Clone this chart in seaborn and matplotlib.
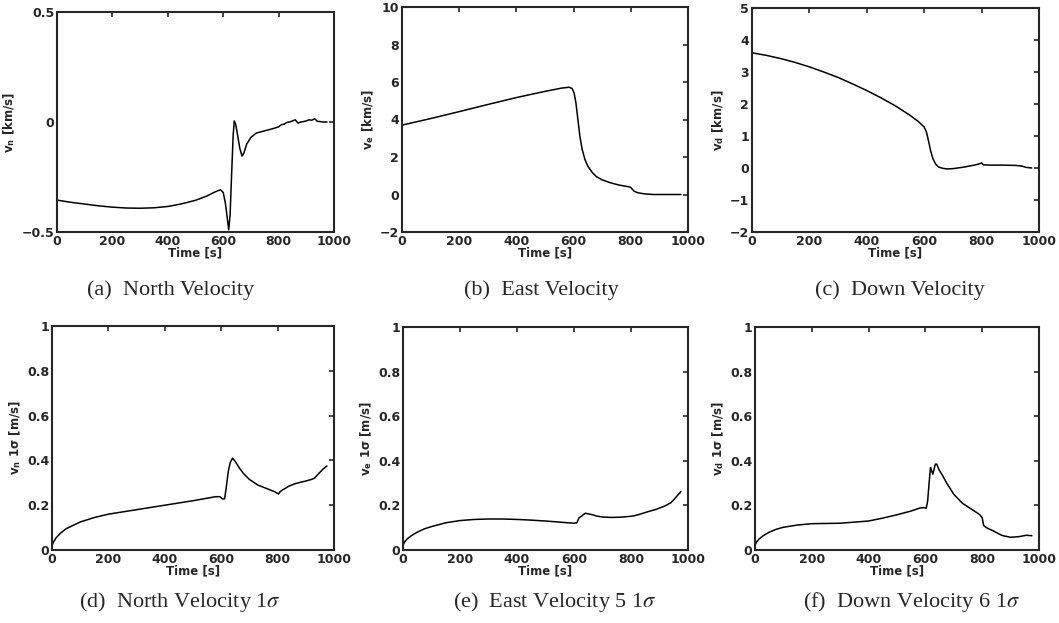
import numpy as np
import pandas as pd
import matplotlib
matplotlib.use('Agg')
import matplotlib.pyplot as plt
import seaborn as sns

# (a) north velocity [km/s]
t_a = [0, 50, 100, 150, 200, 250, 300, 350, 400, 450, 500, 540, 570, 590, 600, 608, 615, 620, 625, 630, 636,
       640, 645, 652, 660, 668, 675, 685, 700, 720, 750, 780, 800, 810, 820, 830, 840, 850, 860, 870, 880,
       890, 900, 910, 920, 930, 940, 950, 960, 975]
v_a = [-0.355, -0.365, -0.373, -0.381, -0.387, -0.391, -0.392, -0.39, -0.384, -0.372, -0.356, -0.337, -0.318,
       -0.308, -0.32, -0.37, -0.44, -0.49, -0.42, -0.25, -0.06, 0.005, -0.01, -0.06, -0.12, -0.155, -0.14,
       -0.1, -0.07, -0.05, -0.04, -0.03, -0.022, -0.012, -0.01, -0.002, 0.0, 0.005, 0.01, -0.005, 0.0,
       0.002, 0.005, 0.01, 0.008, 0.015, 0.003, 0.002, 0.0, 0.0]

# (b) east velocity [km/s]
t_b = [0, 100, 200, 300, 400, 500, 560, 585, 595, 602, 608, 615, 622, 630, 640, 650, 665, 680, 700, 730,
       760, 790, 800, 805, 812, 825, 850, 880, 920, 975]
v_b = [3.7, 4.05, 4.42, 4.8, 5.17, 5.5, 5.68, 5.72, 5.65, 5.4, 4.9, 4.0, 3.1, 2.4, 1.85, 1.5, 1.18, 0.95,
       0.78, 0.62, 0.5, 0.42, 0.38, 0.28, 0.17, 0.09, 0.03, 0.0, 0.0, 0.0]

# (c) down velocity [km/s]
t_c = [0, 50, 100, 150, 200, 250, 300, 350, 400, 450, 500, 550, 580, 600, 608, 615, 622, 630, 640, 650,
       665, 680, 700, 740, 780, 795, 800, 806, 830, 870, 920, 940, 955, 975]
v_c = [3.6, 3.52, 3.42, 3.3, 3.16, 3.0, 2.83, 2.63, 2.42, 2.19, 1.94, 1.65, 1.45, 1.28, 1.12, 0.85, 0.55,
       0.3, 0.12, 0.03, -0.01, -0.03, -0.02, 0.03, 0.1, 0.14, 0.16, 0.1, 0.09, 0.09, 0.08, 0.06, 0.02, 0.0]

# (d) north velocity 1 sigma [m/s]
t_d = [0, 5, 15, 30, 50, 75, 100, 150, 200, 300, 400, 500, 580, 595, 605, 612, 618, 625, 632, 640, 650,
       665, 680, 700, 730, 760, 790, 803, 810, 820, 840, 860, 880, 900, 920, 930, 945, 960, 975]
v_d = [0.02, 0.035, 0.055, 0.075, 0.095, 0.11, 0.125, 0.145, 0.16, 0.18, 0.2, 0.22, 0.238, 0.238, 0.228,
       0.228, 0.28, 0.35, 0.39, 0.41, 0.395, 0.365, 0.34, 0.315, 0.29, 0.275, 0.26, 0.25, 0.262, 0.27,
       0.285, 0.295, 0.302, 0.308, 0.315, 0.32, 0.34, 0.36, 0.375]

# (e) east velocity 1 sigma [m/s]
t_e = [0, 5, 15, 30, 50, 75, 100, 150, 200, 250, 300, 350, 400, 450, 500, 550, 600, 610, 618, 625, 632,
       640, 650, 665, 680, 700, 730, 760, 790, 810, 830, 860, 890, 920, 940, 950, 960, 975]
v_e = [0.02, 0.035, 0.05, 0.065, 0.08, 0.095, 0.105, 0.122, 0.132, 0.137, 0.139, 0.139, 0.137, 0.134,
       0.13, 0.125, 0.12, 0.122, 0.145, 0.15, 0.158, 0.165, 0.162, 0.158, 0.152, 0.148, 0.146, 0.147,
       0.15, 0.153, 0.16, 0.172, 0.183, 0.198, 0.212, 0.225, 0.24, 0.262]

# (f) down velocity 1 sigma [m/s]
t_f = [0, 5, 15, 30, 50, 75, 100, 150, 200, 300, 400, 450, 500, 550, 580, 595, 603, 608, 613, 618, 622,
       626, 630, 635, 640, 648, 660, 675, 700, 730, 760, 790, 800, 805, 815, 840, 870, 900, 930, 955, 975]
v_f = [0.02, 0.035, 0.05, 0.065, 0.08, 0.093, 0.102, 0.112, 0.118, 0.12, 0.13, 0.143, 0.158, 0.175,
       0.188, 0.19, 0.188, 0.22, 0.3, 0.37, 0.355, 0.34, 0.36, 0.385, 0.385, 0.36, 0.335, 0.3, 0.25,
       0.21, 0.185, 0.16, 0.145, 0.11, 0.1, 0.085, 0.065, 0.057, 0.06, 0.066, 0.064]

x_ticks = [0, 200, 400, 600, 800, 1000]
yt_a = [-0.5, 0, 0.5]
yl_a = ['\u22120.5', '0', '0.5']
yt_b = [-2, 0, 2, 4, 6, 8, 10]
yl_b = ['\u22122', '0', '2', '4', '6', '8', '10']
yt_c = [-2, -1, 0, 1, 2, 3, 4, 5]
yl_c = ['\u22122', '\u22121', '0', '1', '2', '3', '4', '5']
yt_s = [0, 0.2, 0.4, 0.6, 0.8, 1]
yl_s = ['0', '0.2', '0.4', '0.6', '0.8', '1']

ylabels = ['v$_\\mathregular{n}$ [km/s]', 'v$_\\mathregular{e}$ [km/s]', 'v$_\\mathregular{d}$ [km/s]',
           'v$_\\mathregular{n}$ 1\u03c3 [m/s]', 'v$_\\mathregular{e}$ 1\u03c3 [m/s]', 'v$_\\mathregular{d}$ 1\u03c3 [m/s]']
captions = ['(a)  North Velocity', '(b)  East Velocity', '(c)  Down Velocity',
            '(d)  North Velocity 1$\\sigma$', '(e)  East Velocity 5 1$\\sigma$', '(f)  Down Velocity 6 1$\\sigma$']

sns.set_style('white')
plt.rcParams['font.family'] = ['DejaVu Sans']
plt.rcParams['mathtext.fontset'] = 'stix'
plt.rcParams['axes.linewidth'] = 1.5

fig = plt.figure(figsize=(10.59, 6.23), dpi=100)

W, H = 1059, 623
boxes = [(57, 334, 12, 232), (402, 688, 7, 232), (752, 1039, 8, 232),
         (52, 334, 326, 550), (403, 688, 327, 550), (755, 1039, 327, 550)]
cap_pos = [(171, 290), (541, 290), (900, 290), (180, 602), (555, 602), (912, 602)]

series = [(t_a, v_a), (t_b, v_b), (t_c, v_c), (t_d, v_d), (t_e, v_e), (t_f, v_f)]
yticks = [(yt_a, yl_a), (yt_b, yl_b), (yt_c, yl_c), (yt_s, yl_s), (yt_s, yl_s), (yt_s, yl_s)]

for i in range(6):
    l, r, t, b = boxes[i]
    ax = fig.add_axes([l / W, 1 - b / H, (r - l) / W, (b - t) / H])
    df = pd.DataFrame({'t': series[i][0], 'v': series[i][1]})
    sns.lineplot(data=df, x='t', y='v', ax=ax, color='black', linewidth=1.1)
    ax.set_xlim(0, 1000)
    yt, yl = yticks[i]
    ax.set_ylim(yt[0], yt[-1])
    ax.set_xticks(x_ticks)
    ax.set_xticklabels([str(x) for x in x_ticks], fontsize=9, fontweight='bold')
    ax.set_yticks(yt)
    ax.set_yticklabels(yl, fontsize=9, fontweight='bold')
    ax.tick_params(direction='in', length=3.5, width=1.2, top=True, right=True, pad=2)
    ax.set_xlabel('Time [s]', fontsize=8.5, fontweight='bold', labelpad=-1)
    ax.set_ylabel(ylabels[i], fontsize=8.5, fontweight='bold', labelpad=3)
    for s in ax.spines.values():
        s.set_visible(True)
        s.set_linewidth(1.5)
    cx, cy = cap_pos[i]
    fig.text(cx / W, 1 - cy / H, captions[i], ha='center', va='center',
             fontsize=16, family='Liberation Serif')

fig.savefig('out.png', dpi=100)
